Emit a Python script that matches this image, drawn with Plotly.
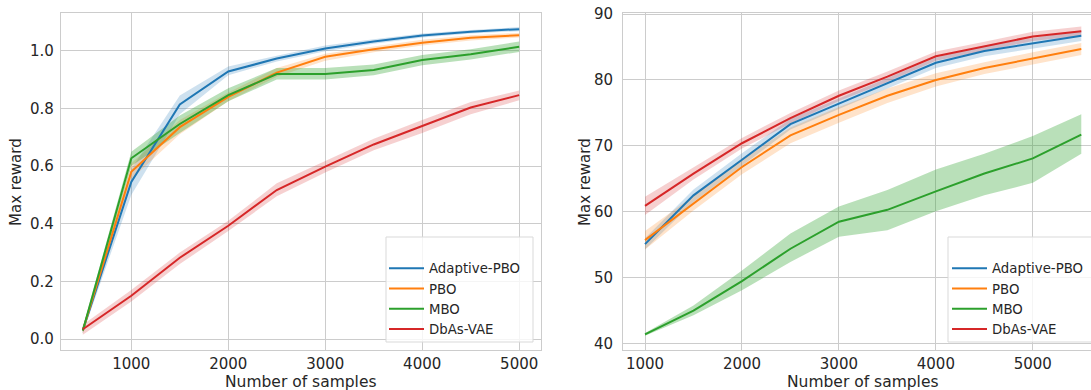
import plotly.graph_objects as go

W, H = 1091, 390
names = ["Adaptive-PBO", "PBO", "MBO", "DbAs-VAE"]
colors = ["#1f77b4", "#ff7f0e", "#2ca02c", "#d62728"]
band_colors = ["rgba(31,119,180,0.22)", "rgba(255,127,14,0.22)", "rgba(44,160,44,0.33)", "rgba(214,39,40,0.22)"]

# Left panel
x_left = [500, 1000, 1500, 2000, 2500, 3000, 3500, 4000, 4500, 5000]
left_mean = [
    [0.03, 0.545, 0.814, 0.928, 0.973, 1.008, 1.032, 1.053, 1.066, 1.075],
    [0.03, 0.580, 0.735, 0.840, 0.924, 0.979, 1.005, 1.028, 1.045, 1.054],
    [0.03, 0.627, 0.746, 0.846, 0.919, 0.919, 0.933, 0.968, 0.988, 1.014],
    [0.034, 0.150, 0.282, 0.393, 0.517, 0.598, 0.675, 0.739, 0.803, 0.846],
]
left_low = [
    [0.02, 0.50, 0.78, 0.915, 0.963, 0.998, 1.024, 1.046, 1.06, 1.068],
    [0.02, 0.555, 0.71, 0.825, 0.91, 0.965, 0.995, 1.018, 1.036, 1.046],
    [0.02, 0.60, 0.715, 0.825, 0.90, 0.90, 0.915, 0.95, 0.97, 0.996],
    [0.015, 0.13, 0.26, 0.375, 0.495, 0.578, 0.655, 0.715, 0.78, 0.828],
]
left_high = [
    [0.04, 0.59, 0.845, 0.945, 0.983, 1.018, 1.04, 1.06, 1.072, 1.082],
    [0.04, 0.61, 0.76, 0.855, 0.94, 0.99, 1.015, 1.038, 1.054, 1.062],
    [0.04, 0.65, 0.775, 0.87, 0.94, 0.94, 0.952, 0.985, 1.005, 1.032],
    [0.05, 0.17, 0.30, 0.41, 0.54, 0.618, 0.695, 0.76, 0.822, 0.862],
]

# Right panel
x_right = [1000, 1500, 2000, 2500, 3000, 3500, 4000, 4500, 5000, 5500]
right_mean = [
    [55.1, 62.5, 67.9, 73.3, 76.4, 79.5, 82.6, 84.4, 85.6, 86.7],
    [55.7, 61.3, 66.8, 71.6, 74.7, 77.6, 80.0, 81.8, 83.3, 84.7],
    [41.4, 45.0, 49.5, 54.4, 58.5, 60.3, 63.1, 65.8, 68.1, 71.7],
    [60.9, 65.8, 70.4, 74.2, 77.6, 80.5, 83.6, 85.1, 86.6, 87.4],
]
right_low = [
    [54.3, 61.5, 67.0, 72.5, 75.6, 78.7, 81.8, 83.6, 84.8, 85.9],
    [54.3, 60.2, 65.7, 70.4, 73.5, 76.5, 79.0, 80.9, 82.4, 83.8],
    [41.2, 44.3, 48.1, 52.4, 56.2, 57.2, 60.1, 62.5, 64.4, 68.8],
    [59.5, 64.9, 69.6, 73.4, 76.8, 79.7, 82.9, 84.4, 85.9, 86.7],
]
right_high = [
    [56.0, 63.4, 68.9, 74.1, 77.2, 80.3, 83.4, 85.2, 86.4, 87.5],
    [57.1, 62.4, 67.9, 72.8, 75.9, 78.7, 81.0, 82.7, 84.2, 85.6],
    [41.6, 45.8, 51.1, 56.7, 60.8, 63.3, 66.4, 68.8, 71.5, 74.8],
    [62.3, 66.7, 71.2, 75.0, 78.4, 81.3, 84.3, 85.8, 87.3, 88.1],
]

x_ticks = [1000, 2000, 3000, 4000, 5000]
left_yticks = [0.0, 0.2, 0.4, 0.6, 0.8, 1.0]
right_yticks = [40, 50, 60, 70, 80, 90]

FONT = "DejaVu Sans"
TXT = "#262626"
GRID = "#cccccc"

fig = go.Figure()

def add_panel(xs, means, lows, highs, xa, ya, legend):
    for i in range(4):
        fig.add_trace(go.Scatter(
            x=list(xs) + list(xs)[::-1], y=list(highs[i]) + list(lows[i])[::-1],
            fill="toself", fillcolor=band_colors[i], line=dict(width=0),
            mode="lines", hoverinfo="skip", showlegend=False, xaxis=xa, yaxis=ya))
    for i in range(4):
        fig.add_trace(go.Scatter(
            x=xs, y=means[i], mode="lines", name=names[i],
            line=dict(color=colors[i], width=2), xaxis=xa, yaxis=ya,
            legend=legend, showlegend=True))

add_panel(x_left, left_mean, left_low, left_high, "x", "y", "legend")
add_panel(x_right, right_mean, right_low, right_high, "x2", "y2", "legend2")

ydom = [(H - 350) / H, (H - 12.7) / H]
axis_common = dict(showgrid=True, gridcolor=GRID, gridwidth=1, zeroline=False,
                   showline=True, linecolor=GRID, linewidth=1.3,
                   tickfont=dict(family=FONT, size=15, color=TXT), automargin=False)

fig.update_layout(
    width=W, height=H, margin=dict(l=0, r=0, t=0, b=0),
    paper_bgcolor="white", plot_bgcolor="white",
    font=dict(family=FONT, color=TXT),
    xaxis=dict(domain=[61 / W, 541 / W], range=[275, 5225], tickvals=x_ticks,
               mirror=True, ticks="", anchor="y", **axis_common),
    yaxis=dict(domain=ydom, range=[-0.038, 1.132], tickvals=left_yticks, tickformat=".1f",
               mirror=True, ticks="outside", ticklen=3, tickcolor="rgba(0,0,0,0)",
               anchor="x", **axis_common),
    xaxis2=dict(domain=[623.3 / W, 1.0], range=[776, 5600], tickvals=x_ticks,
                mirror=True, ticks="", anchor="y2", **axis_common),
    yaxis2=dict(domain=ydom, range=[39.04, 90.2], tickvals=right_yticks,
                mirror=False, ticks="outside", ticklen=6, tickcolor="rgba(0,0,0,0)",
                anchor="x2", **axis_common),
    legend=dict(x=384 / W, y=(H - 253) / H, xanchor="left", yanchor="top",
                bgcolor="rgba(0,0,0,0)", borderwidth=0, itemwidth=35,
                font=dict(family=FONT, size=13.3, color=TXT)),
    legend2=dict(x=947 / W, y=(H - 253) / H, xanchor="left", yanchor="top",
                 bgcolor="rgba(0,0,0,0)", borderwidth=0, itemwidth=35,
                 font=dict(family=FONT, size=13.3, color=TXT)),
    shapes=[
        dict(type="rect", xref="paper", yref="paper", x0=386 / W, x1=533 / W,
             y0=(H - 342) / H, y1=(H - 237) / H, line=dict(color="#d9d9d9", width=1),
             fillcolor="rgba(255,255,255,0.8)", layer="above"),
        dict(type="rect", xref="paper", yref="paper", x0=948 / W, x1=1100 / W,
             y0=(H - 342) / H, y1=(H - 237) / H, line=dict(color="#d9d9d9", width=1),
             fillcolor="rgba(255,255,255,0.8)", layer="above"),
    ],
    annotations=[
        dict(text="Max reward", x=16 / W, y=(H - 182) / H, xref="paper", yref="paper",
             xanchor="center", yanchor="middle",
             textangle=-90, showarrow=False, font=dict(family=FONT, size=15, color=TXT)),
        dict(text="Max reward", x=585 / W, y=(H - 182) / H, xref="paper", yref="paper",
             xanchor="center", yanchor="middle",
             textangle=-90, showarrow=False, font=dict(family=FONT, size=15, color=TXT)),
        dict(text="Number of samples", x=301 / W, y=(H - 382) / H, xref="paper", yref="paper",
             xanchor="center", yanchor="middle",
             showarrow=False, font=dict(family=FONT, size=15.5, color=TXT)),
        dict(text="Number of samples", x=863 / W, y=(H - 382) / H, xref="paper", yref="paper",
             xanchor="center", yanchor="middle",
             showarrow=False, font=dict(family=FONT, size=15.5, color=TXT)),
    ],
)

fig.write_html("out.html")
